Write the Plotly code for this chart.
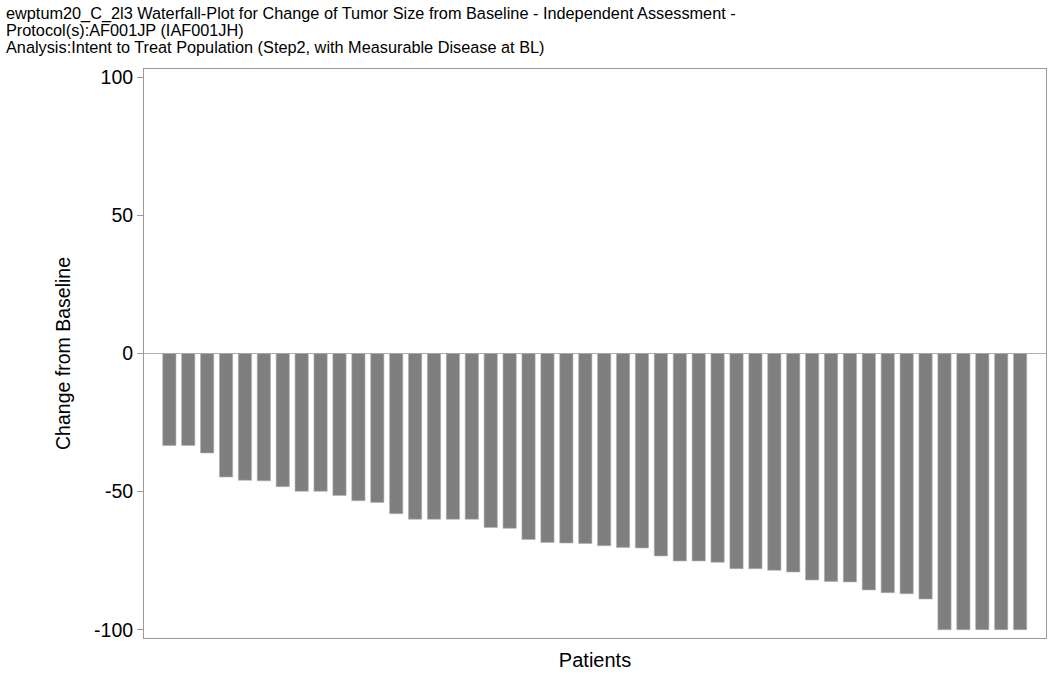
import plotly.graph_objects as go

patients = list(range(1, 47))
change = [-33.3, -33.3, -36.0, -44.7, -45.9, -46.1, -48.2, -49.9, -49.9, -51.4,
          -53.3, -53.9, -58.0, -60.0, -60.0, -60.0, -60.0, -63.0, -63.3, -67.3,
          -68.4, -68.6, -68.8, -69.6, -70.2, -70.4, -73.3, -75.1, -75.1, -75.6,
          -77.9, -77.9, -78.5, -79.1, -82.0, -82.5, -82.7, -85.6, -86.6, -87.0,
          -88.9, -100.0, -100.0, -100.0, -100.0, -100.0]
ytick_vals = [-100, -50, 0, 50, 100]
ytick_text = ["-100", "-50", "0", "50", "100"]
title_lines = [
    "ewptum20_C_2l3 Waterfall-Plot for Change of Tumor Size from Baseline - Independent Assessment -",
    "Protocol(s):AF001JP (IAF001JH)",
    "Analysis:Intent to Treat Population (Step2, with Measurable Disease at BL)",
]

font_family = "Liberation Sans, Arial, Helvetica, sans-serif"
L, R, T, B = 144, 4, 69, 39
W, H = 1050, 677
pw, ph = W - L - R, H - T - B

annots = []
for i, line in enumerate(title_lines):
    ycenter_px = 13 + 17 * i
    annots.append(dict(text=line, xref="paper", yref="paper",
                       x=-(L - 4) / pw, y=1 + (T - ycenter_px) / ph,
                       xanchor="left", yanchor="middle", align="left",
                       showarrow=False,
                       font=dict(size=16.3, family=font_family, color="black")))

fig = go.Figure()
fig.add_trace(go.Bar(
    x=patients, y=change, width=0.70,
    marker=dict(color="#7f7f7f", line=dict(color="#b0b0b0", width=0.6)),
    showlegend=False,
))

fig.update_layout(
    width=W, height=H,
    margin=dict(l=L, r=R, t=T, b=B),
    paper_bgcolor="white", plot_bgcolor="white",
    font=dict(family=font_family, color="black"),
    shapes=[dict(type="line", xref="paper", x0=0, x1=1, yref="y", y0=0, y1=0,
                 line=dict(color="#b0b0b0", width=1), layer="below")],
    annotations=annots,
)
fig.update_xaxes(range=[-0.34, 47.37], showticklabels=False, ticks="",
                 showline=True, linecolor="#9a9a9a", linewidth=1, mirror=True,
                 showgrid=False, zeroline=False,
                 title=dict(text="Patients", font=dict(size=20), standoff=14))
fig.update_yaxes(range=[-103, 103], tickvals=ytick_vals, ticktext=ytick_text,
                 ticks="outside", ticklen=6, tickcolor="#9a9a9a",
                 tickfont=dict(size=19.5),
                 showline=True, linecolor="#9a9a9a", linewidth=1, mirror=True,
                 showgrid=False, zeroline=False,
                 title=dict(text="Change from Baseline", font=dict(size=19.5), standoff=18))

fig.write_html("out.html")
